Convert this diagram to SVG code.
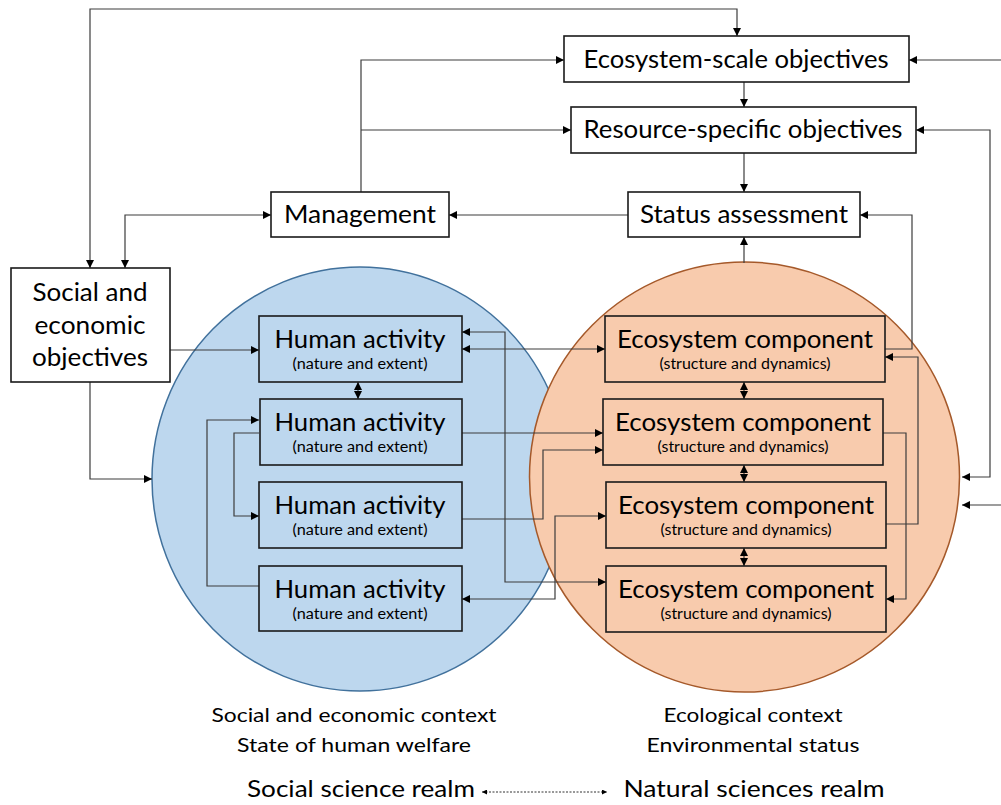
<svg xmlns="http://www.w3.org/2000/svg" width="1001" height="805" viewBox="0 0 1001 805">
<style>
text{font-family:Lato,"Liberation Sans",sans-serif;fill:#000;text-anchor:middle}
.box{fill:#fff;stroke:#1a1a1a;stroke-width:1.6}
.ibox{fill:none;stroke:#1a1a1a;stroke-width:1.6}
.t{font-size:25px}
.s{font-size:14.5px}
.b{font-size:20px}
.r{font-size:24px}
.c{fill:none;stroke:#3c3c3c;stroke-width:1.2;marker-end:url(#ah)}
.d{marker-start:url(#ah)}
.n{marker-end:none}
</style>
<defs>
<marker id="ah" viewBox="0 0 10 10" refX="10" refY="5" markerWidth="9" markerHeight="8" markerUnits="userSpaceOnUse" orient="auto-start-reverse">
<path d="M0,0 L10,5 L0,10 z" fill="#000"/>
</marker>
<marker id="sh" viewBox="0 0 10 10" refX="10" refY="5" markerWidth="6" markerHeight="5" markerUnits="userSpaceOnUse" orient="auto-start-reverse">
<path d="M0,0 L10,5 L0,10 z" fill="#000"/>
</marker>
</defs>

<g id="social-context">
<ellipse cx="360" cy="479" rx="208" ry="212" fill="#BDD7EE" stroke="#41719C" stroke-width="1.5"/>
</g>
<g id="ecological-context">
<circle cx="744.5" cy="477" r="215" fill="#F8CBAD" stroke="#A5592A" stroke-width="1.5"/>
</g>

<g id="connectors">
<path class="c d" d="M90,268 V9 H737 V36"/>
<path class="c" d="M361,192 V60 H564"/>
<path class="c" d="M361,130 H571"/>
<path class="c d" d="M125,268 V215 H271"/>
<path class="c" d="M628,215 H449"/>
<path class="c" d="M744,82 V107"/>
<path class="c" d="M744,153 V192"/>
<path class="c" d="M744,263 V237"/>
<path class="c" d="M1001,60 H909"/>
<path class="c d" d="M962,477 H990 V130 H916"/>
<path class="c" d="M1001,505 H962"/>
<path class="c" d="M885,349 H912 V215 H860"/>
<path class="c" d="M886,524 H918 V357 H885"/>
<path class="c" d="M883,433 H906 V599 H886"/>
<path class="c d" d="M744,382 V399"/>
<path class="c d" d="M744,465 V482"/>
<path class="c d" d="M744,548 V566"/>
<path class="c d" d="M358,382 V399"/>
<path class="c" d="M259,586 H207 V420 H259"/>
<path class="c" d="M259,433 H234 V516 H259"/>
<path class="c" d="M170,350 H259"/>
<path class="c" d="M90,382 V479 H152"/>
<path class="c d" d="M462,332 H505 V582 H606"/>
<path class="c d" d="M462,349 H605"/>
<path class="c" d="M462,433 H603"/>
<path class="c" d="M462,519 H543 V450 H603"/>
<path class="c d" d="M462,599 H555 V516 H606"/>
<path d="M482,792 H607" fill="none" stroke="#333" stroke-width="1" stroke-dasharray="2,1.5" marker-start="url(#sh)" marker-end="url(#sh)"/>
</g>

<g id="ecosystem-scale-objectives">
<rect class="box" x="564" y="36" width="345" height="46"/>
<text class="t" x="736" y="68" textLength="305" lengthAdjust="spacingAndGlyphs">Ecosystem-scale objectives</text>
</g>
<g id="resource-specific-objectives">
<rect class="box" x="571" y="107" width="345" height="46"/>
<text class="t" x="743" y="138" textLength="319" lengthAdjust="spacingAndGlyphs">Resource-specific objectives</text>
</g>
<g id="status-assessment">
<rect class="box" x="628" y="192" width="232" height="45"/>
<text class="t" x="744" y="223" textLength="208" lengthAdjust="spacingAndGlyphs">Status assessment</text>
</g>
<g id="management">
<rect class="box" x="271" y="192" width="178" height="45"/>
<text class="t" x="360" y="223" textLength="152" lengthAdjust="spacingAndGlyphs">Management</text>
</g>
<g id="social-economic-objectives">
<rect class="box" x="11" y="268" width="159" height="114"/>
<text class="t" x="90" y="301" textLength="115" lengthAdjust="spacingAndGlyphs">Social and</text>
<text class="t" x="90" y="334" textLength="111" lengthAdjust="spacingAndGlyphs">economic</text>
<text class="t" x="90" y="366" textLength="116" lengthAdjust="spacingAndGlyphs">objectives</text>
</g>

<g id="human-activity-1">
<rect class="ibox" x="259" y="316" width="203" height="66"/>
<text class="t" x="360" y="348" textLength="171" lengthAdjust="spacingAndGlyphs">Human activity</text>
<text class="s" x="360" y="369" textLength="135" lengthAdjust="spacingAndGlyphs">(nature and extent)</text>
</g>
<g id="human-activity-2">
<rect class="ibox" x="260" y="399" width="202" height="66"/>
<text class="t" x="360" y="431" textLength="171" lengthAdjust="spacingAndGlyphs">Human activity</text>
<text class="s" x="360" y="452" textLength="135" lengthAdjust="spacingAndGlyphs">(nature and extent)</text>
</g>
<g id="human-activity-3">
<rect class="ibox" x="259" y="482" width="203" height="66"/>
<text class="t" x="360" y="514" textLength="171" lengthAdjust="spacingAndGlyphs">Human activity</text>
<text class="s" x="360" y="535" textLength="135" lengthAdjust="spacingAndGlyphs">(nature and extent)</text>
</g>
<g id="human-activity-4">
<rect class="ibox" x="259" y="566" width="203" height="65"/>
<text class="t" x="360" y="598" textLength="171" lengthAdjust="spacingAndGlyphs">Human activity</text>
<text class="s" x="360" y="619" textLength="135" lengthAdjust="spacingAndGlyphs">(nature and extent)</text>
</g>

<g id="ecosystem-component-1">
<rect class="ibox" x="605" y="316" width="280" height="66"/>
<text class="t" x="745" y="348" textLength="256" lengthAdjust="spacingAndGlyphs">Ecosystem component</text>
<text class="s" x="745" y="369" textLength="171" lengthAdjust="spacingAndGlyphs">(structure and dynamics)</text>
</g>
<g id="ecosystem-component-2">
<rect class="ibox" x="603" y="399" width="280" height="66"/>
<text class="t" x="743" y="431" textLength="256" lengthAdjust="spacingAndGlyphs">Ecosystem component</text>
<text class="s" x="743" y="452" textLength="171" lengthAdjust="spacingAndGlyphs">(structure and dynamics)</text>
</g>
<g id="ecosystem-component-3">
<rect class="ibox" x="606" y="482" width="280" height="66"/>
<text class="t" x="746" y="514" textLength="256" lengthAdjust="spacingAndGlyphs">Ecosystem component</text>
<text class="s" x="746" y="535" textLength="171" lengthAdjust="spacingAndGlyphs">(structure and dynamics)</text>
</g>
<g id="ecosystem-component-4">
<rect class="ibox" x="606" y="566" width="280" height="66"/>
<text class="t" x="746" y="598" textLength="256" lengthAdjust="spacingAndGlyphs">Ecosystem component</text>
<text class="s" x="746" y="619" textLength="171" lengthAdjust="spacingAndGlyphs">(structure and dynamics)</text>
</g>

<g id="labels">
<text class="b" x="354" y="722" textLength="285" lengthAdjust="spacingAndGlyphs">Social and economic context</text>
<text class="b" x="354" y="752" textLength="234" lengthAdjust="spacingAndGlyphs">State of human welfare</text>
<text class="b" x="753" y="722" textLength="179" lengthAdjust="spacingAndGlyphs">Ecological context</text>
<text class="b" x="753" y="752" textLength="213" lengthAdjust="spacingAndGlyphs">Environmental status</text>
<text class="r" x="361" y="797" textLength="228" lengthAdjust="spacingAndGlyphs">Social science realm</text>
<text class="r" x="754" y="797" textLength="261" lengthAdjust="spacingAndGlyphs">Natural sciences realm</text>
</g>
</svg>
